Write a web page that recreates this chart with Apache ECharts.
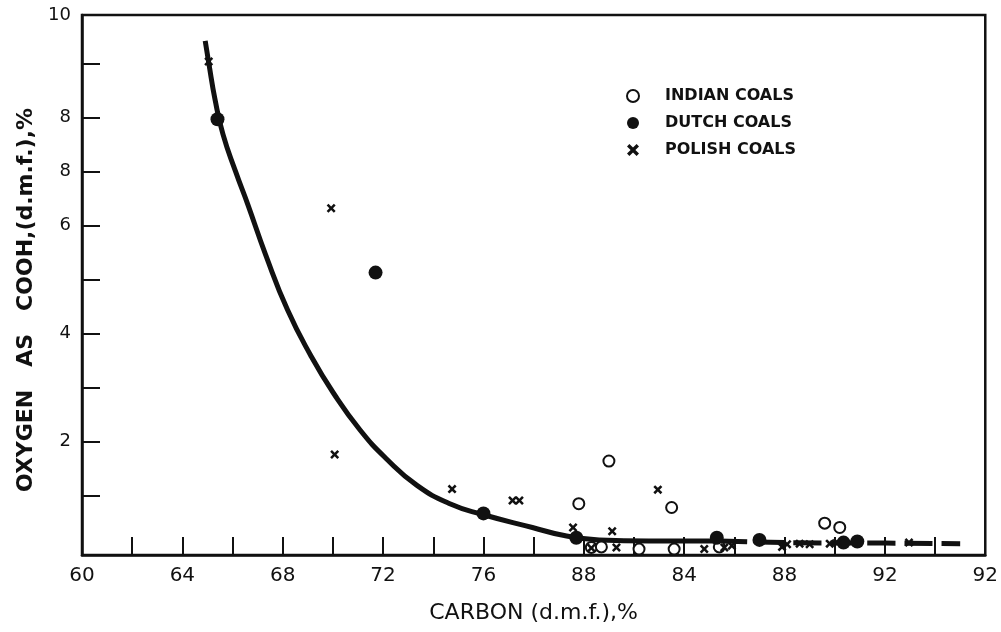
<!DOCTYPE html>
<html>
<head>
<meta charset="utf-8">
<title>Oxygen as COOH vs carbon</title>
<script src="https://cdn.jsdelivr.net/npm/echarts@6/dist/echarts.min.js"></script>
<style>
	html, body { margin: 0; padding: 0; background: #fff; }
	#chart { width: 1001px; height: 632px; }
</style>
</head>
<body>
<div id="chart"></div>
<script>
// values
var indianCarbon = [79.8, 81.0, 83.5, 89.6, 90.2, 80.3, 80.7, 82.2, 83.6, 85.4]
var indianOxygen = [0.85, 1.64, 0.78, 0.49, 0.41, 0.04, 0.05, 0.01, 0.01, 0.05]

var dutchCarbon = [65.4, 71.7, 76.0, 79.7, 85.3, 87.0, 90.35, 90.9]
var dutchOxygen = [7.97, 5.13, 0.67, 0.22, 0.22, 0.18, 0.13, 0.15]

var polishCarbon = [65.05, 69.93, 70.07, 74.75, 77.16, 77.43, 79.57, 81.13, 82.95, 80.3, 81.3, 84.8, 85.6, 85.9, 87.9, 88.1, 88.6, 89.0, 89.8, 90.1, 92.96]
var polishOxygen = [9.04, 6.32, 1.76, 1.12, 0.91, 0.91, 0.41, 0.34, 1.11, 0.03, 0.04, 0.01, 0.04, 0.07, 0.05, 0.10, 0.11, 0.10, 0.11, 0.13, 0.13]

// hand drawn trend line, solid part then dashed tail
var curveCarbon = [64.91, 65.06, 65.30, 65.62, 66.13, 66.61, 67.32, 68.19, 69.11, 70.02, 71.09, 72.16, 73.35, 74.66, 75.97, 77.95, 79.22, 80.61, 82.59, 85.4]
var curveOxygen = [9.42, 8.99, 8.34, 7.69, 6.99, 6.39, 5.46, 4.44, 3.60, 2.90, 2.21, 1.67, 1.19, 0.85, 0.65, 0.41, 0.26, 0.18, 0.16, 0.16]
var tailCarbon = [85.4, 88.0, 92.0, 95.0]
var tailOxygen = [0.16, 0.13, 0.12, 0.11]

// printed tick labels (as they appear in the original, misprints included)
var xTickValues = [62, 64, 66, 68, 70, 72, 74, 76, 78, 80, 82, 84, 86, 88, 90, 92, 94]
var xLabelValues = [60, 64, 68, 72, 76, 80, 84, 88, 92, 96]
var xLabelTexts = ['60', '64', '68', '72', '76', '88', '84', '88', '92', '92']
var yTickValues = [1, 2, 3, 4, 5, 6, 7, 8, 9]
var yLabelValues = [9.9, 8, 7, 6, 4, 2]
var yLabelTexts = ['10', '8', '8', '6', '4', '2']

function pairs(xs, ys) {
	return xs.map(function (x, i) { return [x, ys[i]] })
}

function lookup(values, texts) {
	return function (v) {
		for (var i = 0; i < values.length; i++) {
			if (Math.abs(values[i] - v) < 1e-6) return texts[i]
		}
		return ''
	}
}

var ink = '#111'
var cross = 'path://M0,2L2,0L5,3L8,0L10,2L7,5L10,8L8,10L5,7L2,10L0,8L3,5Z'

var myChart = echarts.init(document.getElementById('chart'))
myChart.setOption({
	backgroundColor: '#fff',
	animation: false,
	textStyle: { fontFamily: 'DejaVu Sans', color: ink },
	grid: {
		left: 82,
		right: 10,
		top: 15,
		bottom: 77,
		show: true,
		borderColor: ink,
		borderWidth: 2.5
	},
	legend: {
		orient: 'vertical',
		left: 621,
		top: 83,
		itemGap: 11,
		itemWidth: 12,
		itemHeight: 12,
		data: ['INDIAN COALS', 'DUTCH COALS', 'POLISH COALS'],
		textStyle: {
			fontSize: 16,
			fontWeight: 'bold',
			color: ink,
			padding: [0, 0, 0, 21]
		}
	},
	xAxis: {
		type: 'value',
		min: 60,
		max: 96,
		name: 'CARBON (d.m.f.),%',
		nameLocation: 'middle',
		nameGap: 47,
		nameTextStyle: { fontSize: 22, color: ink },
		splitLine: { show: false },
		axisLine: { onZero: false, lineStyle: { color: ink, width: 2.5 } },
		axisTick: {
			inside: true,
			length: 18,
			customValues: xTickValues,
			lineStyle: { color: ink, width: 2 }
		},
		axisLabel: {
			customValues: xLabelValues,
			formatter: lookup(xLabelValues, xLabelTexts),
			fontSize: 20,
			margin: 11,
			color: ink
		}
	},
	yAxis: {
		type: 'value',
		min: -0.1,
		max: 9.9,
		name: 'OXYGEN   AS   COOH,(d.m.f.),%',
		nameLocation: 'middle',
		nameGap: 41,
		nameTextStyle: { fontSize: 22, fontWeight: 'bold', color: ink, padding: [0, 30, 0, 0] },
		splitLine: { show: false },
		axisLine: { onZero: false, lineStyle: { color: ink, width: 2.5 } },
		axisTick: {
			inside: true,
			length: 18,
			customValues: yTickValues,
			lineStyle: { color: ink, width: 2 }
		},
		axisLabel: {
			customValues: yLabelValues,
			formatter: lookup(yLabelValues, yLabelTexts),
			fontSize: 18,
			margin: 11,
			color: ink
		}
	},
	series: [
		{
			name: 'trend',
			type: 'line',
			smooth: 0.5,
			showSymbol: false,
			data: pairs(curveCarbon, curveOxygen),
			lineStyle: { color: ink, width: 5 },
			z: 1
		},
		{
			name: 'trend tail',
			type: 'line',
			smooth: true,
			showSymbol: false,
			data: pairs(tailCarbon, tailOxygen),
			lineStyle: { color: ink, width: 5, type: [28, 9] },
			z: 1
		},
		{
			name: 'INDIAN COALS',
			type: 'scatter',
			symbol: 'circle',
			symbolSize: 11,
			data: pairs(indianCarbon, indianOxygen),
			itemStyle: { color: '#fff', borderColor: ink, borderWidth: 2, opacity: 1 },
			z: 3
		},
		{
			name: 'DUTCH COALS',
			type: 'scatter',
			symbol: 'circle',
			symbolSize: 14,
			data: pairs(dutchCarbon, dutchOxygen),
			itemStyle: { color: ink, opacity: 1 },
			z: 3
		},
		{
			name: 'POLISH COALS',
			type: 'scatter',
			symbol: cross,
			symbolSize: 9,
			data: pairs(polishCarbon, polishOxygen),
			itemStyle: { color: ink, opacity: 1 },
			z: 3
		}
	]
})
</script>
</body>
</html>
